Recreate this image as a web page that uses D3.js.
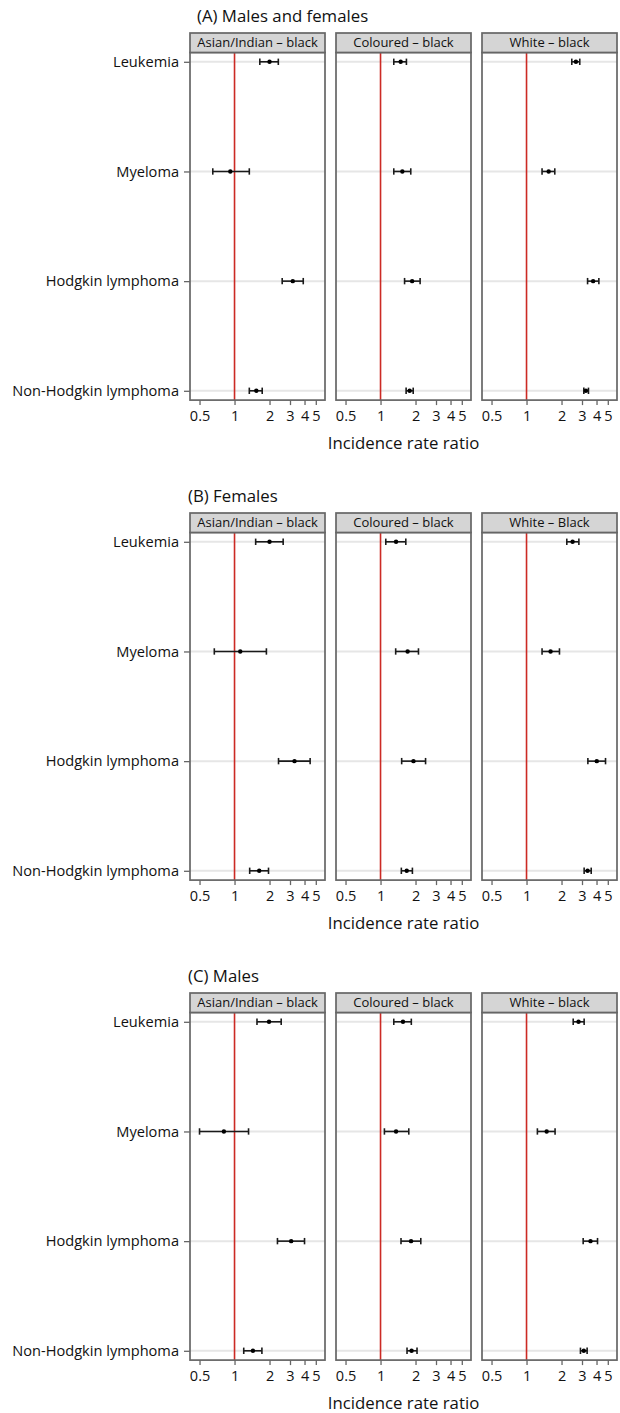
<!DOCTYPE html>
<html>
<head>
<meta charset="utf-8">
<script src="https://cdn.jsdelivr.net/npm/d3@7"></script>
<style>
  html, body { margin: 0; padding: 0; background: #fff; }
  svg { display: block; font-family: "Open Sans", "Noto Sans", sans-serif; }
</style>
</head>
<body>
<svg id="chart" width="620" height="1413"></svg>
<script>
// ---------- data ----------
const cancers = ["Leukemia", "Myeloma", "Hodgkin lymphoma", "Non-Hodgkin lymphoma"];
const blockTitles = ["(A) Males and females", "(B) Females", "(C) Males"];
const comparisonsA = ["Asian/Indian \u2013 black", "Coloured \u2013 black", "White \u2013 black"];
const comparisonsB = ["Asian/Indian \u2013 black", "Coloured \u2013 black", "White \u2013 Black"];
const comparisonsC = ["Asian/Indian \u2013 black", "Coloured \u2013 black", "White \u2013 black"];
const xTicks = [0.5, 1, 2, 3, 4, 5];
const axisTitle = "Incidence rate ratio";

// (A) Males and females — per comparison, values in cancer order
const irrA = [[2.00, 0.92, 3.17, 1.54], [1.49, 1.54, 1.87, 1.78], [2.66, 1.55, 3.74, 3.24]];
const lowA = [[1.65, 0.65, 2.57, 1.34], [1.30, 1.30, 1.61, 1.66], [2.45, 1.36, 3.35, 3.11]];
const uppA = [[2.38, 1.34, 3.90, 1.73], [1.67, 1.82, 2.19, 1.91], [2.87, 1.75, 4.19, 3.41]];

// (B) Females
const irrB = [[2.00, 1.12, 3.28, 1.63], [1.36, 1.71, 1.92, 1.68], [2.49, 1.61, 4.02, 3.35]];
const lowB = [[1.52, 0.67, 2.39, 1.35], [1.11, 1.35, 1.52, 1.51], [2.22, 1.36, 3.37, 3.13]];
const uppB = [[2.62, 1.88, 4.47, 1.96], [1.65, 2.12, 2.44, 1.88], [2.82, 1.92, 4.78, 3.60]];

// (C) Males
const irrC = [[1.98, 0.81, 3.07, 1.44], [1.56, 1.36, 1.83, 1.85], [2.80, 1.49, 3.55, 3.11]];
const lowC = [[1.56, 0.50, 2.34, 1.20], [1.30, 1.08, 1.50, 1.69], [2.52, 1.24, 3.07, 2.91]];
const uppC = [[2.52, 1.32, 4.00, 1.72], [1.84, 1.75, 2.22, 2.06], [3.13, 1.76, 4.08, 3.32]];

const blocks = [
  { title: blockTitles[0], comps: comparisonsA, irr: irrA, low: lowA, upp: uppA },
  { title: blockTitles[1], comps: comparisonsB, irr: irrB, low: lowB, upp: uppB },
  { title: blockTitles[2], comps: comparisonsC, irr: irrC, low: lowC, upp: uppC }
];

// ---------- layout ----------
const svg = d3.select("#chart");
const panelX0 = [190, 336, 482];
const panelW = 135;
const blockStep = 480;
const stripTop0 = 33;
const stripH = 19.5;
const rowPad = 9.3;
const rowSpan = 329;
const titleX = [197, 188, 188];

const gridCol = "#e6e6e6";
const borderCol = "#666666";
const stripFill = "#d5d5d5";
const refCol = "#cc2a24";

blocks.forEach((b, bi) => {
  const stripTop = stripTop0 + bi * blockStep;
  const bodyTop = stripTop + stripH;
  const bodyBottom = bodyTop + rowPad * 2 + rowSpan;
  const g = svg.append("g");

  g.append("text")
    .attr("x", titleX[bi]).attr("y", stripTop - 11)
    .attr("font-size", 16.8).attr("fill", "#111")
    .text(b.title);

  const y = d3.scalePoint().domain(cancers)
    .range([bodyTop + rowPad, bodyTop + rowPad + rowSpan]);

  b.comps.forEach((comp, ci) => {
    const x0 = panelX0[ci];
    const x = d3.scaleLog().domain([0.414, 6.0]).range([x0, x0 + panelW]);
    const pg = g.append("g");

    // grid lines
    pg.selectAll("line.grid").data(cancers).join("line")
      .attr("class", "grid")
      .attr("x1", x0).attr("x2", x0 + panelW)
      .attr("y1", d => y(d)).attr("y2", d => y(d))
      .attr("stroke", gridCol).attr("stroke-width", 2);

    // reference line at 1
    pg.append("line")
      .attr("x1", x(1)).attr("x2", x(1))
      .attr("y1", bodyTop).attr("y2", bodyBottom)
      .attr("stroke", refCol).attr("stroke-width", 1.6);

    // error bars
    const rows = cancers.map((c, k) => ({ c, est: b.irr[ci][k], lo: b.low[ci][k], hi: b.upp[ci][k] }));
    const eb = pg.selectAll("g.eb").data(rows).join("g").attr("class", "eb");
    eb.append("line")
      .attr("x1", d => x(d.lo)).attr("x2", d => x(d.hi))
      .attr("y1", d => y(d.c)).attr("y2", d => y(d.c))
      .attr("stroke", "#1a1a1a").attr("stroke-width", 1.6);
    eb.append("line")
      .attr("x1", d => x(d.lo)).attr("x2", d => x(d.lo))
      .attr("y1", d => y(d.c) - 3.2).attr("y2", d => y(d.c) + 3.2)
      .attr("stroke", "#1a1a1a").attr("stroke-width", 1.6);
    eb.append("line")
      .attr("x1", d => x(d.hi)).attr("x2", d => x(d.hi))
      .attr("y1", d => y(d.c) - 3.2).attr("y2", d => y(d.c) + 3.2)
      .attr("stroke", "#1a1a1a").attr("stroke-width", 1.6);
    eb.append("circle")
      .attr("cx", d => x(d.est)).attr("cy", d => y(d.c)).attr("r", 2.2)
      .attr("fill", "#000");

    // panel border
    pg.append("rect")
      .attr("x", x0).attr("y", bodyTop)
      .attr("width", panelW).attr("height", bodyBottom - bodyTop)
      .attr("fill", "none").attr("stroke", borderCol).attr("stroke-width", 1.7);

    // strip
    pg.append("rect")
      .attr("x", x0).attr("y", stripTop)
      .attr("width", panelW).attr("height", stripH)
      .attr("fill", stripFill).attr("stroke", borderCol).attr("stroke-width", 1.7);
    pg.append("text")
      .attr("x", x0 + panelW / 2).attr("y", stripTop + stripH / 2)
      .attr("dy", "0.36em").attr("text-anchor", "middle")
      .attr("font-size", 13).attr("fill", "#111")
      .text(comp);

    // x axis
    const xa = pg.append("g")
      .attr("transform", `translate(0,${bodyBottom})`)
      .call(d3.axisBottom(x).tickValues(xTicks).tickFormat(d => String(d)).tickSize(5).tickPadding(6));
    xa.select(".domain").remove();
    xa.selectAll(".tick line").attr("stroke", borderCol).attr("stroke-width", 1.3);
    xa.selectAll(".tick text").attr("font-size", 14.5).attr("fill", "#111")
      .attr("font-family", "\"Open Sans\", sans-serif");

    if (ci === 0) {
      const ya = pg.append("g")
        .attr("transform", `translate(${x0},0)`)
        .call(d3.axisLeft(y).tickSize(6).tickPadding(5));
      ya.select(".domain").remove();
      ya.selectAll(".tick line").attr("stroke", borderCol).attr("stroke-width", 1.3);
      ya.selectAll(".tick text").attr("font-size", 14.6).attr("fill", "#111")
        .attr("font-family", "\"Open Sans\", sans-serif");
    }
  });

  g.append("text")
    .attr("x", (panelX0[0] + panelX0[2] + panelW) / 2)
    .attr("y", bodyBottom + 43).attr("dy", "0.36em")
    .attr("text-anchor", "middle")
    .attr("font-size", 16.8).attr("fill", "#111")
    .text(axisTitle);
});
</script>
</body>
</html>
